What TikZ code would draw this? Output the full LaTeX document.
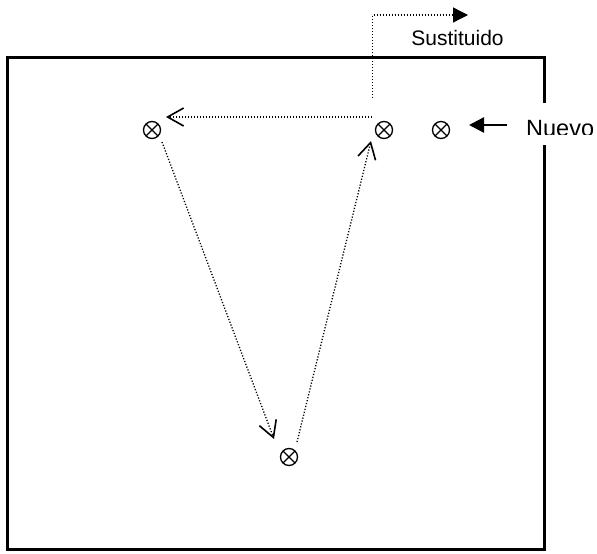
\documentclass[tikz,border=0pt]{standalone}
\usepackage{fontspec}
\setmainfont{Liberation Sans}
\usetikzlibrary{arrows.meta}
\begin{document}
\begin{tikzpicture}[x=1pt,y=-1pt,
  xo/.style={circle,draw,line width=1.3pt,minimum size=17pt,inner sep=0pt,
    path picture={
      \draw[line width=1.3pt] ([shift={(45:8.5pt)}]path picture bounding box.center) -- ([shift={(225:8.5pt)}]path picture bounding box.center);
      \draw[line width=1.3pt] ([shift={(135:8.5pt)}]path picture bounding box.center) -- ([shift={(315:8.5pt)}]path picture bounding box.center);
    }},
  dots/.style={line width=1.3pt, dash pattern=on 1.2pt off 1.8pt},
  openhead/.style={-{Straight Barb[length=16pt,width=18pt,line width=1.6pt]}},
  fillhead/.style={-{Triangle[length=15pt,width=15pt]}}
]
\useasboundingbox (0,0) rectangle (597,554);
\fill[white] (0,0) rectangle (597,554);
% frame
\draw[line width=3.5pt] (7.5,57.5) rectangle (544.5,549.5);

% circles
\node[xo] (c1) at (152,130) {};
\node[xo] (c2) at (384,130) {};
\node[xo] (c3) at (441,130) {};
\node[xo] (c4) at (289,457) {};

% connector end points
\coordinate (s1) at (372,117);
\coordinate (t1) at (166,117);
\coordinate (s2) at (162,142);
\coordinate (t2) at (274,439);
\coordinate (s3) at (297,442);
\coordinate (t3) at (371,141);
\coordinate (s4) at (372.5,98);
\coordinate (k4) at (372.5,15);
\coordinate (t4) at (468,15);
\coordinate (s5) at (507,125);
\coordinate (t5) at (469,125);

\draw[dots,openhead] (s1) -- (t1);
\draw[dots,openhead] (s2) -- (t2);
\draw[dots,openhead] (s3) -- (t3);
\draw[dots,fillhead] (s4) -- (k4) -- (t4);
\draw[line width=2.4pt,fillhead] (s5) -- (t5);

% labels
\node[anchor=base,inner sep=0pt,font=\fontsize{21}{24}\selectfont] (sust) at (457.5,45) {Sustituido};
\fill[white] (521,103) rectangle (597,145);
\begin{scope}
\clip (521,103) rectangle (597,134);
\node[anchor=base west,inner sep=0pt,font=\fontsize{23.5}{27}\selectfont] (nuevo) at (526,136.5) {Nuevo};
\end{scope}
\end{tikzpicture}
\end{document}
